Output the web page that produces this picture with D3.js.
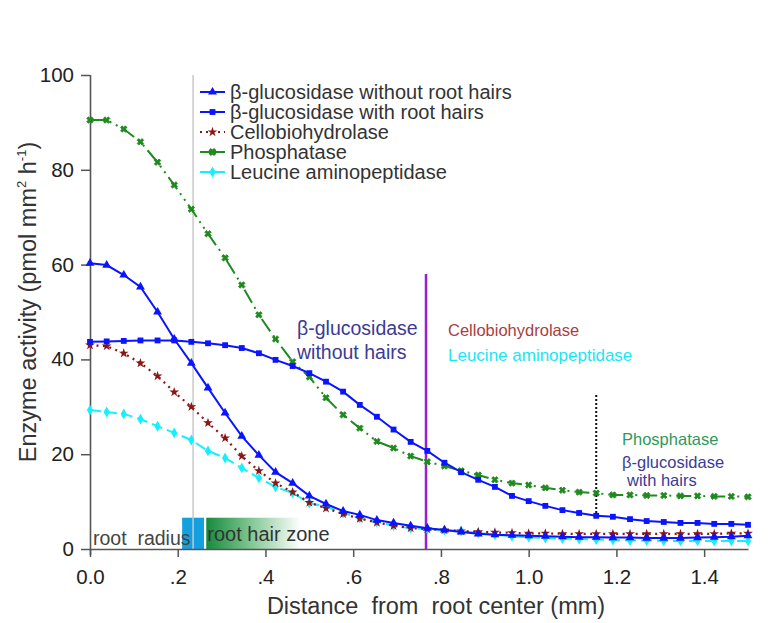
<!DOCTYPE html>
<html>
<head>
<meta charset="utf-8">
<script src="https://cdn.jsdelivr.net/npm/d3@7"></script>
<style>
  body { margin: 0; background: #fff; }
  svg { font-family: "Liberation Sans", Arial, sans-serif; }
</style>
</head>
<body>
<div id="container"></div>
<script>
/* CONSTANTS AND GLOBALS */
const width = 774,
  height = 623,
  margin = { top: 75, bottom: 74, left: 90, right: 26 };

/* DATA */
const distance = [0, 0.038, 0.077, 0.115, 0.154, 0.192, 0.231, 0.269, 0.308, 0.346,
  0.385, 0.423, 0.462, 0.5, 0.538, 0.577, 0.615, 0.654, 0.692, 0.731,
  0.769, 0.808, 0.846, 0.885, 0.923, 0.962, 1.0, 1.038, 1.077, 1.115,
  1.154, 1.192, 1.231, 1.269, 1.308, 1.346, 1.385, 1.423, 1.462, 1.5];

const glucWithout = [60.3, 59.9, 57.8, 55.3, 50.0, 44.3, 39.2, 34.0, 28.7, 23.8,
  19.8, 16.2, 13.9, 11.2, 9.5, 8.0, 7.2, 6.1, 5.5, 4.9,
  4.4, 4.0, 3.6, 3.2, 3.0, 2.9, 2.8, 2.7, 2.6, 2.5,
  2.5, 2.4, 2.4, 2.3, 2.3, 2.3, 2.4, 2.5, 2.6, 2.8];

const glucWith = [43.7, 43.8, 43.9, 44.0, 44.0, 44.0, 43.7, 43.4, 43.0, 42.4,
  41.3, 39.9, 38.6, 37.1, 35.3, 33.2, 30.4, 27.9, 25.2, 22.6,
  20.7, 18.2, 16.2, 14.6, 13.1, 11.2, 10.1, 9.1, 8.2, 7.6,
  7.0, 6.8, 6.3, 5.9, 5.7, 5.5, 5.5, 5.3, 5.3, 5.1];

const cellobio = [43.0, 42.8, 41.3, 39.2, 36.5, 33.1, 30.0, 26.6, 23.4, 19.6,
  16.5, 13.9, 12.0, 9.8, 8.6, 7.4, 6.4, 5.6, 4.9, 4.4,
  4.2, 4.0, 3.8, 3.6, 3.5, 3.4, 3.3, 3.3, 3.2, 3.2,
  3.2, 3.2, 3.2, 3.2, 3.2, 3.2, 3.2, 3.2, 3.3, 3.3];

const phosphatase = [90.5, 90.5, 88.6, 85.9, 81.6, 76.8, 71.7, 66.5, 61.4, 55.7,
  49.4, 44.3, 39.5, 36.3, 31.9, 28.3, 25.5, 22.7, 21.3, 19.6,
  18.4, 17.5, 16.5, 15.6, 14.6, 13.9, 13.5, 12.9, 12.4, 12.0,
  11.8, 11.4, 11.4, 11.3, 11.3, 11.2, 11.2, 11.1, 11.1, 11.0];

const leucine = [29.3, 28.9, 28.5, 27.4, 25.9, 24.5, 23.0, 20.7, 19.2, 17.1,
  15.0, 13.1, 11.8, 9.7, 8.9, 7.6, 6.5, 5.7, 4.9, 4.4,
  4.2, 4.0, 3.8, 3.4, 3.0, 2.7, 2.5, 2.3, 2.2, 2.1,
  2.0, 1.9, 1.8, 1.8, 1.7, 1.7, 1.7, 1.7, 1.7, 1.7];

const seriesNames = ["β-glucosidase without root hairs", "β-glucosidase with root hairs",
  "Cellobiohydrolase", "Phosphatase", "Leucine aminopeptidase"];

const xTicks = [0, 0.2, 0.4, 0.6, 0.8, 1.0, 1.2, 1.4];
const xTickLabels = ["0.0", ".2", ".4", ".6", ".8", "1.0", "1.2", "1.4"];
const yTicks = [0, 20, 40, 60, 80, 100];

// marker lines: root radius, bulk boundary, dotted marker
const rootRadius = 0.235;
const purpleAt = 0.766;
const dottedAt = 1.154, dottedTop = 32.5, dottedBottom = 6.6;
const purpleTop = 58;
const zoneRadius = [0.21, 0.26];
const zoneHair = [0.265, 0.48];

/* STYLES */
const styles = [
  { values: glucWithout, color: "#0a14ff", dash: null, symbol: d3.symbolTriangle, size: 34, rot: 0 },
  { values: glucWith, color: "#0a14ff", dash: null, symbol: d3.symbolSquare, size: 34, rot: 0 },
  { values: cellobio, color: "#8b1515", dash: "2,4.5", symbol: d3.symbolStar, size: 30, rot: 0 },
  { values: phosphatase, color: "#1f8a1f", dash: "15,5,2,5,2,5", symbol: d3.symbolCross, size: 26, rot: 45 },
  { values: leucine, color: "#14f0ff", dash: "11,5", symbol: d3.symbolDiamond, size: 34, rot: 0 }
];

/* SCALES */
const xScale = d3.scaleLinear()
  .domain([0, 1.5])
  .range([margin.left, width - margin.right])

const yScale = d3.scaleLinear()
  .domain([0, 100])
  .range([height - margin.bottom, margin.top])

/* SVG */
const svg = d3.select("#container")
  .append("svg")
  .attr("width", width)
  .attr("height", height)

const defs = svg.append("defs")
const grad = defs.append("linearGradient").attr("id", "hairGrad")
grad.append("stop").attr("offset", "0%").attr("stop-color", "#168a3c")
grad.append("stop").attr("offset", "45%").attr("stop-color", "#7cc48f")
grad.append("stop").attr("offset", "100%").attr("stop-color", "#ffffff")

// zone boxes
const y0 = yScale(0)
svg.append("rect")
  .attr("x", xScale(zoneRadius[0]))
  .attr("y", yScale(6.6))
  .attr("width", xScale(zoneRadius[1]) - xScale(zoneRadius[0]))
  .attr("height", y0 - yScale(6.6))
  .attr("fill", "#149fe0")

svg.append("rect")
  .attr("x", xScale(zoneHair[0]))
  .attr("y", yScale(6.6))
  .attr("width", xScale(zoneHair[1]) - xScale(zoneHair[0]))
  .attr("height", y0 - yScale(6.6))
  .attr("fill", "url(#hairGrad)")

svg.append("text")
  .attr("x", 93).attr("y", y0 - 4)
  .attr("font-size", 19.5).attr("fill", "#444")
  .style("white-space", "pre")
  .text("root  radius")

svg.append("text")
  .attr("x", xScale(zoneHair[0]) + 1).attr("y", y0 - 8)
  .attr("font-size", 20).attr("fill", "#333")
  .text("root hair zone")

// gray root radius line
svg.append("line")
  .attr("x1", xScale(rootRadius)).attr("x2", xScale(rootRadius))
  .attr("y1", yScale(100)).attr("y2", y0)
  .attr("stroke", "#c8c8c8").attr("stroke-width", 1.5)

// purple line
svg.append("line")
  .attr("x1", xScale(purpleAt)).attr("x2", xScale(purpleAt))
  .attr("y1", yScale(purpleTop)).attr("y2", y0)
  .attr("stroke", "#9b1fd0").attr("stroke-width", 2.5)

// dotted black line
svg.append("line")
  .attr("x1", xScale(dottedAt)).attr("x2", xScale(dottedAt))
  .attr("y1", yScale(dottedTop)).attr("y2", yScale(dottedBottom))
  .attr("stroke", "#111").attr("stroke-width", 2).attr("stroke-dasharray", "2,2")

/* AXES */
const xAxis = d3.axisBottom(xScale)
  .tickValues(xTicks)
  .tickFormat((d, i) => xTickLabels[i])
  .tickSizeInner(8).tickSizeOuter(0).tickPadding(12)

const yAxis = d3.axisLeft(yScale)
  .tickValues(yTicks)
  .tickSizeInner(9).tickSizeOuter(0).tickPadding(7)

const gx = svg.append("g")
  .attr("transform", `translate(0,${y0})`)
  .call(xAxis)

const gy = svg.append("g")
  .attr("transform", `translate(${margin.left},0)`)
  .call(yAxis)

for (const g of [gx, gy]) {
  g.select(".domain").attr("stroke", "#555").attr("stroke-width", 1.6)
  g.selectAll(".tick line").attr("stroke", "#555").attr("stroke-width", 1.5)
  g.selectAll(".tick text").attr("fill", "#222").attr("font-size", 20.5)
    .attr("font-family", "Liberation Sans, Arial, sans-serif")
}
gy.select(".domain").attr("d", `M0.5,${y0 + 6}V${yScale(100)}`)

// axis titles
svg.append("text")
  .attr("x", 436).attr("y", 614)
  .attr("text-anchor", "middle")
  .attr("font-size", 23.5).attr("fill", "#333")
  .style("white-space", "pre")
  .text("Distance  from  root center (mm)")

const yTitle = svg.append("text")
  .attr("transform", `translate(36,302) rotate(-90)`)
  .attr("text-anchor", "middle")
  .attr("font-size", 23.5).attr("fill", "#333")
yTitle.append("tspan").text("Enzyme activity (pmol mm")
yTitle.append("tspan").attr("font-size", 13).attr("dy", -10).text("2")
yTitle.append("tspan").attr("dy", 10).text(" h")
yTitle.append("tspan").attr("font-size", 13).attr("dy", -10).text("-1")
yTitle.append("tspan").attr("dy", 10).text(")")

/* LINES */
const line = d3.line()
  .x((d, i) => xScale(distance[i]))
  .y(d => yScale(d))

const order = [4, 2, 3, 1, 0]
order.forEach(k => {
  const s = styles[k]
  svg.append("path")
    .datum(s.values)
    .attr("fill", "none")
    .attr("stroke", s.color)
    .attr("stroke-width", k === 2 ? 2.2 : 2)
    .attr("stroke-dasharray", s.dash)
    .attr("d", line)

  svg.selectAll(`path.m${k}`)
    .data(s.values)
    .join("path")
    .attr("class", `m${k}`)
    .attr("d", d3.symbol().type(s.symbol).size(s.size))
    .attr("transform", (d, i) => `translate(${xScale(distance[i])},${yScale(d)}) rotate(${s.rot})`)
    .attr("fill", s.color)
    .attr("stroke", k === 3 ? s.color : "none")
    .attr("stroke-width", k === 3 ? 0.8 : 0)
})

/* LEGEND */
const legend = svg.append("g")
  .attr("transform", "translate(200,92)")

seriesNames.forEach((name, k) => {
  const s = styles[k]
  const row = legend.append("g").attr("transform", `translate(0,${k * 20})`)
  row.append("line")
    .attr("x1", 0).attr("x2", 25)
    .attr("stroke", s.color).attr("stroke-width", 2)
    .attr("stroke-dasharray", k === 2 ? "2,4" : null)
  row.append("path")
    .attr("d", d3.symbol().type(s.symbol).size(s.size))
    .attr("transform", `translate(12.5,0) rotate(${s.rot})`)
    .attr("fill", s.color)
    .attr("stroke", k === 3 ? s.color : "none")
  row.append("text")
    .attr("x", 30).attr("y", 7)
    .attr("font-size", 20).attr("fill", "#333")
    .text(name)
})

/* ANNOTATIONS */
const annos = [
  { text: "β-glucosidase", x: 297, y: 335, color: "#3b3b95", size: 19.5 },
  { text: "without hairs", x: 297, y: 359, color: "#3b3b95", size: 19.5 },
  { text: "Cellobiohydrolase", x: 448, y: 336, color: "#a8403f", size: 16.5 },
  { text: "Leucine aminopeptidase", x: 448, y: 361, color: "#19e6f5", size: 17 },
  { text: "Phosphatase", x: 622, y: 445, color: "#2e9a5a", size: 16.5 },
  { text: "β-glucosidase", x: 622, y: 468, color: "#3b3b95", size: 16.5 },
  { text: "with hairs", x: 627, y: 486, color: "#3b3b95", size: 16.5 }
]
svg.selectAll("text.anno")
  .data(annos)
  .join("text")
  .attr("class", "anno")
  .attr("x", d => d.x).attr("y", d => d.y)
  .attr("font-size", d => d.size)
  .attr("fill", d => d.color)
  .text(d => d.text)
</script>
</body>
</html>
